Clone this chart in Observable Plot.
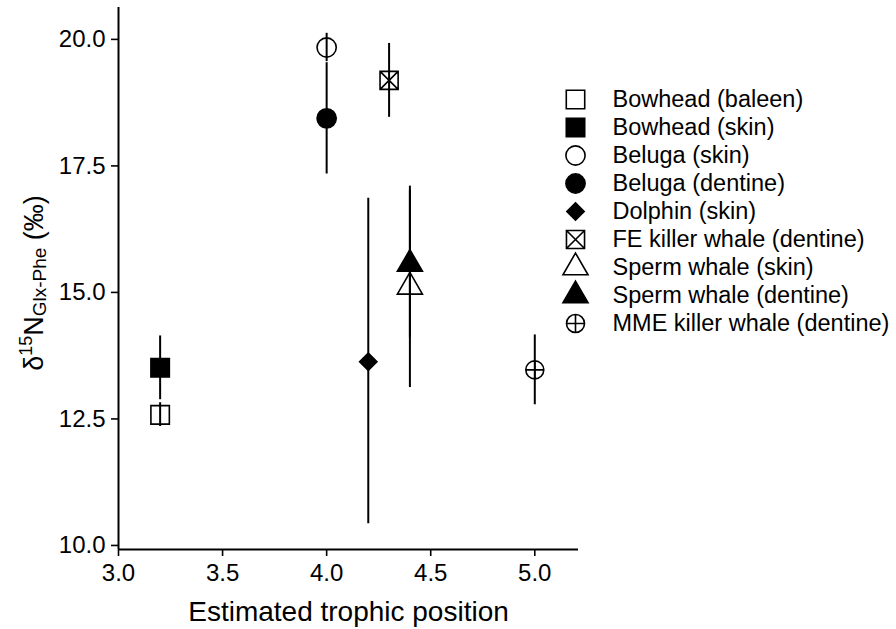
<!DOCTYPE html>
<html><head><meta charset="utf-8">
<script src="https://cdn.jsdelivr.net/npm/d3@7"></script>
<script src="https://cdn.jsdelivr.net/npm/@observablehq/plot@0.6"></script>
<style>
body{margin:0;background:#fff;}
#wrap{position:relative;width:896px;height:629px;overflow:hidden;}
#legend{position:absolute;left:540px;top:68px;}
</style></head>
<body><div id="wrap"><div id="chart"></div><div id="legend"></div></div>
<script>
// ---- data ----
const series = ["Bowhead (baleen)", "Bowhead (skin)", "Beluga (skin)", "Beluga (dentine)", "Dolphin (skin)",
  "FE killer whale (dentine)", "Sperm whale (skin)", "Sperm whale (dentine)", "MME killer whale (dentine)"];
const trophicPosition = [3.2, 3.2, 4.0, 4.0, 4.2, 4.3, 4.4, 4.4, 5.0];
const d15N = [12.58, 13.51, 19.84, 18.44, 13.63, 19.19, 15.11, 15.56, 13.47];
const d15NLow = [12.35, 12.88, 19.56, 17.34, 10.43, 18.46, 13.12, 14.10, 12.78];
const d15NHigh = [12.82, 14.14, 20.12, 19.54, 16.86, 19.92, 17.10, 17.02, 14.16];
const xTicks = [3.0, 3.5, 4.0, 4.5, 5.0];
const yTicks = [10.0, 12.5, 15.0, 17.5, 20.0];
const xDomain = [3.0, 5.21];
const yDomain = [9.92, 20.63];
const xLabel = "Estimated trophic position";

// ---- custom symbols ----
const squareX = {draw(ctx, size) {
  const s = Math.sqrt(size) / 2;
  ctx.moveTo(-s, -s); ctx.lineTo(s, -s); ctx.lineTo(s, s); ctx.lineTo(-s, s); ctx.closePath();
  ctx.moveTo(-s, -s); ctx.lineTo(s, s); ctx.moveTo(s, -s); ctx.lineTo(-s, s);
}};
const circlePlus = {draw(ctx, size) {
  const r = Math.sqrt(size / Math.PI);
  ctx.moveTo(r, 0); ctx.arc(0, 0, r, 0, 2 * Math.PI);
  ctx.moveTo(-r, 0); ctx.lineTo(r, 0); ctx.moveTo(0, -r); ctx.lineTo(0, r);
}};

// ---- styles (not data) ----
const markerStyle = {
  "Bowhead (baleen)": {symbol: "square", fill: "none", r: 10.4},
  "Bowhead (skin)": {symbol: "square", fill: "black", r: 10.4},
  "Beluga (skin)": {symbol: "circle", fill: "none", r: 9.6},
  "Beluga (dentine)": {symbol: "circle", fill: "black", r: 9.6},
  "Dolphin (skin)": {symbol: "diamond2", fill: "black", r: 7.8},
  "FE killer whale (dentine)": {symbol: squareX, fill: "none", r: 10.2},
  "Sperm whale (skin)": {symbol: "triangle", fill: "none", r: 9.3},
  "Sperm whale (dentine)": {symbol: "triangle", fill: "black", r: 9.3},
  "MME killer whale (dentine)": {symbol: circlePlus, fill: "none", r: 9}
};

const rows = series.map((s, i) => ({series: s, x: trophicPosition[i], y: d15N[i], lo: d15NLow[i], hi: d15NHigh[i]}));
const font = "'Liberation Sans', Arial, Helvetica, sans-serif";

const dotMarks = (data, opts) => series.map(s => {
  const st = markerStyle[s];
  return Plot.dot(data.filter(d => (d.series ?? d) === s), {
    ...opts, symbol: st.symbol, r: st.r, fill: st.fill, stroke: "black", strokeWidth: 1.6
  });
});

const chart = Plot.plot({
  width: 896, height: 629,
  marginLeft: 118, marginRight: 318, marginTop: 7, marginBottom: 80,
  style: {fontSize: "24px", fontFamily: font, color: "black", background: "white", overflow: "visible"},
  x: {domain: xDomain},
  y: {domain: yDomain},
  marks: [
    Plot.axisX({ticks: xTicks, tickFormat: d => d.toFixed(1), tickSize: 7, tickPadding: 7, label: null, strokeWidth: 1.6}),
    Plot.axisY({ticks: yTicks, tickFormat: d => d.toFixed(1), tickSize: 7, tickPadding: 6, label: null, strokeWidth: 1.6}),
    Plot.ruleY([yDomain[0]], {strokeWidth: 2}),
    Plot.ruleX([xDomain[0]], {strokeWidth: 2}),
    Plot.ruleX(rows, {x: "x", y1: "lo", y2: "hi", strokeWidth: 2}),
    ...dotMarks(rows, {x: "x", y: "y"}),
    Plot.text([xLabel], {frameAnchor: "bottom", dy: 63, lineAnchor: "middle", fontSize: 28, text: d => d})
  ]
});
document.getElementById("chart").appendChild(chart);

// y-axis label with super/subscripts
const svg = d3.select(chart.tagName.toLowerCase() === "svg" ? chart : chart.querySelector("svg"));
const yl = svg.append("text")
  .attr("transform", "translate(43,283) rotate(-90)")
  .attr("text-anchor", "middle")
  .attr("font-size", 27)
  .attr("fill", "black");
yl.append("tspan").text("δ");
yl.append("tspan").attr("font-size", 18).attr("dy", -11).text("15");
yl.append("tspan").attr("dy", 11).text("N");
yl.append("tspan").attr("font-size", 19).attr("dy", 3).text("Glx-Phe");
yl.append("tspan").attr("dy", -3).text(" (‰)");

// legend
const legend = Plot.plot({
  width: 356, height: 280,
  marginTop: 29, marginBottom: 23, marginLeft: 0, marginRight: 0,
  style: {fontSize: "23.5px", fontFamily: font, color: "black", background: "transparent", overflow: "visible"},
  y: {type: "point", domain: series, padding: 0, axis: null},
  marks: [
    ...dotMarks(series, {y: d => d, frameAnchor: "left", dx: 35}),
    Plot.text(series, {y: d => d, frameAnchor: "left", dx: 72, textAnchor: "start", text: d => d})
  ]
});
document.getElementById("legend").appendChild(legend);
</script>
</body></html>
